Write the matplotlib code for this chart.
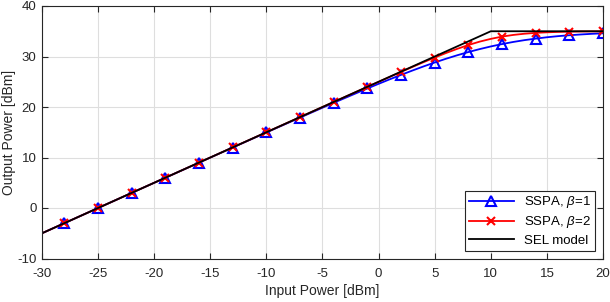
import matplotlib
matplotlib.use("Agg")
import matplotlib.pyplot as plt

plt.rcParams['font.family'] = ['Liberation Sans', 'DejaVu Sans']
plt.rcParams['mathtext.fontset'] = 'custom'
plt.rcParams['mathtext.it'] = 'Liberation Sans:italic'
plt.rcParams['mathtext.rm'] = 'Liberation Sans'
plt.rcParams['axes.unicode_minus'] = False

# curve samples (input power, dBm)
x_line = [-30, -28, -25, -22, -19, -16, -13, -10, -7, -5, -4, -2, -1,
          0, 1, 2, 3, 4, 5, 6, 7, 8, 9, 10, 11, 12, 13, 14, 15, 16, 17, 18, 19, 20]
sspa1 = [-5.0, -3.0, 0.0, 3.0, 5.99, 8.99, 11.98, 14.96, 17.91, 19.86, 20.83, 22.73, 23.67,
         24.59, 25.49, 26.36, 27.21, 28.03, 28.81, 29.55, 30.24, 30.88, 31.46, 31.99,
         32.46, 32.88, 33.24, 33.54, 33.81, 34.03, 34.21, 34.36, 34.49, 34.59]
sspa2 = [-5.0, -3.0, 0.0, 3.0, 6.0, 9.0, 12.0, 15.0, 18.0, 20.0, 21.0, 22.99, 23.99,
         24.98, 25.97, 26.95, 27.92, 28.87, 29.79, 30.68, 31.51, 32.27, 32.94, 33.49,
         33.94, 34.27, 34.51, 34.68, 34.79, 34.87, 34.92, 34.95, 34.97, 34.98]

# marker positions
x_mark = [-28, -25, -22, -19, -16, -13, -10, -7, -4, -1, 2, 5, 8, 11, 14, 17, 20]

# SEL model breakpoints
x_sel = [-30, 10, 20]
sel = [-5, 35, 35]

mark_idx = [x_line.index(v) for v in x_mark]

fig = plt.figure(figsize=(6.1, 3.02), dpi=100)
ax = fig.add_axes([42 / 610, 1 - 258.5 / 302, (603 - 42) / 610, (258.5 - 6) / 302])

ax.plot(x_line, sspa1, color='blue', lw=1.3, marker='^', markevery=mark_idx,
        ms=7.5, mfc='none', mec='blue', mew=1.5, label=r'SSPA, $\beta$=1')
ax.plot(x_line, sspa2, color='red', lw=1.3, marker='x', markevery=mark_idx,
        ms=6, mec='red', mew=1.5, label=r'SSPA, $\beta$=2')
ax.plot(x_sel, sel, color='black', lw=1.3, label='SEL model')

ax.set_xlim(-30, 20)
ax.set_ylim(-10, 40)
ax.set_xticks(range(-30, 21, 5))
ax.set_yticks(range(-10, 41, 10))
ax.grid(True, color='#dedede', lw=0.8)
ax.set_axisbelow(True)
ax.tick_params(direction='in', top=True, right=True, length=4, width=0.8,
               labelsize=9.5, colors='#262626', labelcolor='#262626', pad=4)
ax.tick_params(axis='x', pad=7)
for s in ax.spines.values():
    s.set_color('#262626')
    s.set_linewidth(0.8)
ax.set_xlabel('Input Power [dBm]', fontsize=10, color='#262626', labelpad=3)
ax.set_ylabel('Output Power [dBm]', fontsize=10, color='#262626', labelpad=1)

leg = ax.legend(loc='lower right', fontsize=9.5, fancybox=False, framealpha=1,
                edgecolor='#262626', borderaxespad=0.6, handlelength=3.4,
                borderpad=0.3, labelspacing=0.3)
leg.get_frame().set_linewidth(0.8)

fig.savefig('out.png', dpi=100)
